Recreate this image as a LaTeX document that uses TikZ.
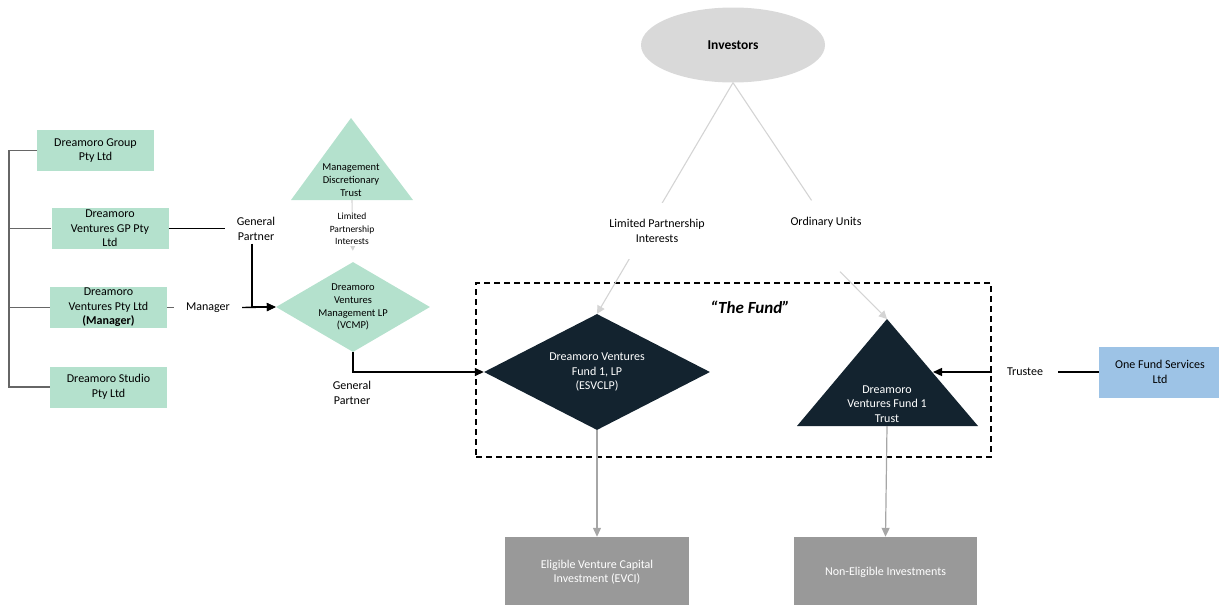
\documentclass[tikz,border=0pt]{standalone}
\usepackage{fontspec}
\setmainfont{Carlito}
\usetikzlibrary{shapes.geometric,arrows.meta}
\definecolor{mint}{RGB}{180,225,205}
\definecolor{navy}{RGB}{19,35,47}
\definecolor{steel}{RGB}{157,195,230}
\definecolor{slate}{RGB}{153,153,153}
\definecolor{cloud}{RGB}{217,217,217}
\begin{document}
\begin{tikzpicture}[x=1pt,y=-1pt,
    every node/.style={font=\fontsize{12}{14.5}\selectfont, align=center},
    small/.style={font=\fontsize{10.5}{12.8}\selectfont},
    mintbox/.style={fill=mint, inner sep=0pt, minimum width=117pt, minimum height=41pt},
    greybox/.style={fill=slate, text=white, inner sep=0pt, minimum width=184pt, minimum height=70pt},
    lbl/.style={inner xsep=12pt, inner ysep=3pt},
    tree/.style={draw=black!60, line width=1.1pt},
    link/.style={line width=1.4pt},
    linkarrow/.style={link, -{Triangle[length=9pt,width=8pt]}},
    faint/.style={draw=black!17, line width=1.1pt},
    faintarrow/.style={faint, -{Triangle[length=8pt,width=8pt]}},
    down/.style={draw=black!35, line width=1.2pt, -{Triangle[length=9pt,width=8pt]}}]
\useasboundingbox (0,0) rectangle (1219,605);

% group companies
\node[mintbox] (group) at (95.5,150.5) {Dreamoro Group\\Pty Ltd};
\node[mintbox] (gp) at (110,228.5) {Dreamoro\\Ventures GP Pty\\Ltd};
\node[mintbox] (mgrbox) at (108.5,307.5) {Dreamoro\\Ventures Pty Ltd\\\textbf{(Manager)}};
\node[mintbox] (studio) at (108.5,387) {Dreamoro Studio\\Pty Ltd};
\coordinate (trunk) at (9,0);
\draw[tree] (group.west) -- (group.west -| trunk) |- (studio.west);
\draw[tree] (gp.west -| trunk) -- (gp.west);
\draw[tree] (mgrbox.west -| trunk) -- (mgrbox.west);

% management trust and VCMP
\coordinate (mdt-top) at (351,118);
\coordinate (mdt-left) at (291,200);
\coordinate (mdt-right) at (413,200);
\coordinate (mdt-base) at (352,200);
\fill[mint] (mdt-top) -- (mdt-right) -- (mdt-left) -- cycle;
\node[small] (mdt) at (351,180) {Management\\Discretionary\\Trust};
\node[diamond, fill=mint, inner sep=0pt, aspect=1.7, minimum width=154pt,
      minimum height=90pt, small] (vcmp) at (353,307)
      {Dreamoro\\Ventures\\Management LP\\(VCMP)};
\draw[faintarrow, shorten >=11pt] (mdt-base) -- (vcmp.north);
\node[fill=white, inner sep=1pt, font=\fontsize{9.5}{12.5}\selectfont] (mdt-lpi) at (352,229)
      {Limited\\Partnership\\Interests};

\node[lbl] (gp1) at (256,229) {General\\Partner};
\node[lbl] (mgr) at (208,307.5) {Manager};
\draw[link] (gp.east) -- (gp.east -| gp1.west);
\draw[tree] (mgrbox.east) -- (mgr.west);
\draw[linkarrow] ([xshift=-4pt]gp1.south) |- (vcmp.west);
\draw[linkarrow] (mgr.east) -- (vcmp.west);

% the fund
\node[draw, dash pattern=on 6pt off 4pt, line width=1.2pt, minimum width=515pt,
      minimum height=174pt, inner sep=0pt] (fundbox) at (733.5,370) {};
\node[font=\fontsize{17}{20}\selectfont\bfseries\itshape] (fundtitle) at (750,307) {“The Fund”};
\node[diamond, fill=navy, text=white, inner sep=0pt, aspect=1.95, minimum width=226pt,
      minimum height=116pt] (fund) at (597,372) {Dreamoro Ventures\\Fund 1, LP\\(ESVCLP)};
\coordinate (trust-top) at (887,319);
\coordinate (trust-left) at (797,426);
\coordinate (trust-right) at (978,426);
\coordinate (trust-base) at (887,426);
\coordinate (trust-side) at (933,372);
\fill[navy] (trust-top) -- (trust-right) -- (trust-left) -- cycle;
\node[text=white] (trust) at (887,404) {Dreamoro\\Ventures Fund 1\\Trust};

\node (gp2) at (352,393) {General\\Partner};
\draw[linkarrow] (vcmp.south) |- (fund.west);

% investors
\node[ellipse, fill=cloud, inner sep=0pt, minimum width=184pt, minimum height=75pt,
      font=\fontsize{13.5}{16}\selectfont\bfseries] (investors) at (733,45) {Investors};
\draw[faintarrow] (investors.south) -- (fund.north);
\node[fill=white, inner xsep=2pt, inner ysep=17pt] (lpi) at (657,231) {Limited Partnership\\Interests};
\node (ou) at (826,222) {Ordinary Units};
\draw[faint, shorten >=26pt] (investors.south) -- (ou.center);
\draw[faintarrow] ([xshift=14pt,yshift=-41pt]ou.south) -- (trust-top);

% trustee
\node[fill=steel, inner sep=0pt, minimum width=122pt, minimum height=51pt] (ofs) at (1160,372)
      {One Fund Services\\Ltd};
\node[inner xsep=15pt] (trustee) at (1025,372) {Trustee};
\draw[linkarrow] (trustee.west) -- (trust-side);
\draw[link] (trustee.east) -- (ofs.west);

% investments
\node[greybox] (evci) at (597,572) {Eligible Venture Capital\\Investment (EVCI)};
\node[greybox, minimum width=183pt] (nei) at (885.5,572) {Non-Eligible Investments};
\draw[down] (fund.south) -- (evci.north);
\draw[down] (trust-base) -- (nei.north);
\end{tikzpicture}
\end{document}
